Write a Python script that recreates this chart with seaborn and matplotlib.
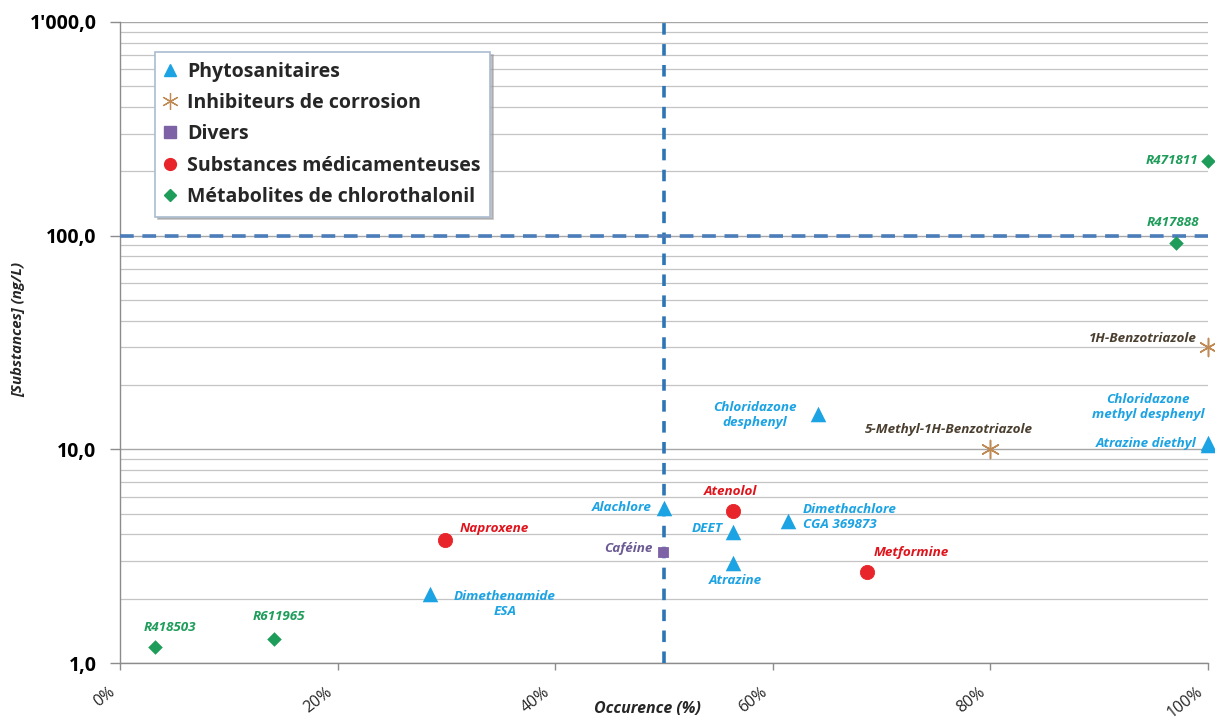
import numpy as np
import pandas as pd
import matplotlib
matplotlib.use("Agg")
import matplotlib.pyplot as plt
from matplotlib.ticker import FixedLocator, FixedFormatter, LogLocator, NullFormatter
from matplotlib.lines import Line2D
import seaborn as sns

# ---- data -------------------------------------------------------------
groups = ["Phytosanitaires", "Inhibiteurs de corrosion", "Divers",
          "Substances médicamenteuses", "Métabolites de chlorothalonil"]

substances = ["R418503", "R611965", "Dimethenamide\nESA", "Naproxene", "Caféine",
              "Alachlore", "Atenolol", "DEET", "Atrazine", "Dimethachlore\nCGA 369873",
              "Metformine", "Chloridazone\ndesphenyl", "5-Methyl-1H-Benzotriazole",
              "Chloridazone\nmethyl desphenyl", "Atrazine diethyl", "1H-Benzotriazole",
              "R417888", "R471811"]
group_of = ["Métabolites de chlorothalonil", "Métabolites de chlorothalonil",
            "Phytosanitaires", "Substances médicamenteuses", "Divers",
            "Phytosanitaires", "Substances médicamenteuses", "Phytosanitaires",
            "Phytosanitaires", "Phytosanitaires", "Substances médicamenteuses",
            "Phytosanitaires", "Inhibiteurs de corrosion", "Phytosanitaires",
            "Phytosanitaires", "Inhibiteurs de corrosion",
            "Métabolites de chlorothalonil", "Métabolites de chlorothalonil"]
occurrence = [3.2, 14.2, 28.5, 29.9, 49.9, 50.0, 56.3, 56.3, 56.3, 61.4,
              68.7, 64.2, 80.0, 100.0, 100.0, 100.0, 97.1, 100.0]
concentration = [1.19, 1.30, 2.1, 3.77, 3.31, 5.32, 5.15, 4.11, 2.94, 4.62,
                 2.67, 14.7, 10.0, 10.5, 10.7, 30.2, 92.7, 224.0]

y_ticks = [1, 10, 100, 1000]
y_tick_labels = ["1,0", "10,0", "100,0", "1'000,0"]
x_ticks = [0, 20, 40, 60, 80, 100]
x_tick_labels = ["0%", "20%", "40%", "60%", "80%", "100%"]

df = pd.DataFrame({"substance": substances, "groupe": group_of,
                   "occ": occurrence, "conc": concentration})

# ---- styling ----------------------------------------------------------
sns.set_theme(style="white")
FONT = ["Open Sans", "DejaVu Sans"]
plt.rcParams["font.family"] = FONT

marker_style = {
    "Phytosanitaires": dict(marker="^", color="#1CA3E3", s=125, lw=0),
    "Inhibiteurs de corrosion": dict(marker=(6, 2, 0), color="#C08A55", s=170, lw=1.1),
    "Divers": dict(marker="s", color="#7E62A6", s=62, lw=0.6),
    "Substances médicamenteuses": dict(marker="o", color="#E8252A", s=105, lw=0.6),
    "Métabolites de chlorothalonil": dict(marker="D", color="#1E9D5A", s=55, lw=0),
}
label_color = {
    "Phytosanitaires": "#1CA3E3",
    "Inhibiteurs de corrosion": "#4B3F30",
    "Divers": "#6B5A94",
    "Substances médicamenteuses": "#E0141C",
    "Métabolites de chlorothalonil": "#1E9D5A",
}

# text offsets (pixels) and alignment for each label
label_layout = {
    "R418503": (15, 19, "center"),
    "R611965": (4, 22, "center"),
    "Dimethenamide\nESA": (75, -10, "center"),
    "Naproxene": (49, 11, "center"),
    "Caféine": (-10, 3, "right"),
    "Alachlore": (-12, 0, "right"),
    "Atenolol": (-2, 19, "center"),
    "DEET": (-10, 3, "right"),
    "Atrazine": (3, -18, "center"),
    "Dimethachlore\nCGA 369873": (15, 4, "left"),
    "Metformine": (44, 19, "center"),
    "Chloridazone\ndesphenyl": (-64, -1, "center"),
    "5-Methyl-1H-Benzotriazole": (-42, 20, "center"),
    "Chloridazone\nmethyl desphenyl": (-60, 38, "center"),
    "Atrazine diethyl": (-11, 0, "right"),
    "1H-Benzotriazole": (-11, 8, "right"),
    "R417888": (-4, 20, "center"),
    "R471811": (-10, 0, "right"),
}

fig = plt.figure(figsize=(12.15, 7.2), dpi=100)
ax = fig.add_axes([120 / 1215, 1 - 663 / 720, 1088 / 1215, 641 / 720])

for g in groups:
    sub = df[df["groupe"] == g]
    st = marker_style[g]
    kw = dict(marker=st["marker"], s=st["s"], color=st["color"], ax=ax,
              zorder=5, clip_on=False, legend=False)
    if st["marker"] == (6, 2, 0):
        kw["linewidth"] = st["lw"]
    else:
        kw["edgecolor"] = st["color"]
        kw["linewidth"] = st["lw"]
    sns.scatterplot(data=sub, x="occ", y="conc", **kw)

ax.set_yscale("log")
ax.set_xlim(0, 100)
ax.set_ylim(1, 1000)

# reference thresholds
ax.axvline(50, color="#2E75B6", lw=2.6, dashes=(3.2, 2.6), zorder=3)
ax.axhline(100, color="#4A7DBA", lw=2.6, dashes=(3.8, 2.4), zorder=3)

# labels
for _, r in df.iterrows():
    dx, dy, ha = label_layout[r["substance"]]
    ax.annotate(r["substance"], (r["occ"], r["conc"]), xytext=(dx, dy),
                textcoords="offset pixels", ha=ha, va="center",
                multialignment=ha, fontsize=9.7, fontweight="bold",
                fontstyle="italic", color=label_color[r["groupe"]],
                linespacing=1.2, zorder=6, annotation_clip=False)

# axes, ticks, grid
ax.yaxis.set_major_locator(FixedLocator(y_ticks))
ax.yaxis.set_major_formatter(FixedFormatter(y_tick_labels))
ax.yaxis.set_minor_locator(LogLocator(base=10, subs=np.arange(2, 10)))
ax.yaxis.set_minor_formatter(NullFormatter())
ax.set_xticks(x_ticks)
ax.set_xticklabels([""] * len(x_ticks))
# slanted percentage labels, anchored just left of each tick
xlab_trans = ax.get_xaxis_transform()
for xv, lab in zip(x_ticks, x_tick_labels):
    ax.annotate(lab, (xv, 0), xycoords=xlab_trans, xytext=(-12, -21),
                textcoords="offset pixels", rotation=38, ha="right", va="top",
                rotation_mode="anchor", fontsize=11.5, color="#262626",
                annotation_clip=False)
for lbl in ax.get_yticklabels():
    lbl.set_fontweight("bold")
    lbl.set_fontsize(14)
    lbl.set_color("#000000")

ax.grid(True, which="major", axis="y", color="#A6A6A6", lw=1.0)
ax.grid(True, which="minor", axis="y", color="#C4C4C4", lw=0.9)
ax.grid(False, axis="x")
ax.tick_params(axis="y", which="major", direction="out", length=7,
               color="#8C8C8C", width=1, left=True, pad=10)
ax.tick_params(axis="y", which="minor", length=0)
ax.tick_params(axis="x", which="major", direction="out", length=5,
               color="#8C8C8C", width=1, bottom=True, pad=10)
for side in ["top", "right"]:
    ax.spines[side].set_visible(False)
for side in ["left", "bottom"]:
    ax.spines[side].set_color("#8C8C8C")
    ax.spines[side].set_linewidth(1)

ax.set_ylabel("[Substances] (ng/L)", fontsize=10.8, fontweight="bold",
              fontstyle="italic")
ax.yaxis.set_label_coords(-0.087, 0.52)
ax.set_xlabel("Occurence (%)", fontsize=11.5, fontweight="bold",
              fontstyle="italic")
ax.xaxis.set_label_coords(0.485, -0.059)

# legend
handles = []
for g in groups:
    st = marker_style[g]
    if st["marker"] == (6, 2, 0):
        h = Line2D([], [], ls="none", marker=st["marker"], markersize=12,
                   markeredgecolor=st["color"], markeredgewidth=0.9)
    elif st["marker"] == "D":
        h = Line2D([], [], ls="none", marker="D", markersize=6.5,
                   color=st["color"], markeredgecolor=st["color"])
    else:
        h = Line2D([], [], ls="none", marker=st["marker"], markersize=8.5,
                   color=st["color"], markeredgecolor=st["color"])
    handles.append(h)
leg = ax.legend(handles, groups, loc="upper left",
                bbox_to_anchor=(35 / 1088, (663 - 52) / 641), borderaxespad=0,
                frameon=True, fancybox=False, shadow={"color": "#9A9A9A", "alpha": 0.6},
                handlelength=0.55, handletextpad=0.6, labelspacing=0.58,
                borderpad=0.5,
                prop=dict(family=FONT, weight="bold", size=14))
leg.get_frame().set_edgecolor("#A9BCD0")
leg.get_frame().set_linewidth(1.2)
leg.set_zorder(10)

fig.savefig("out.png", dpi=100, facecolor="white")
